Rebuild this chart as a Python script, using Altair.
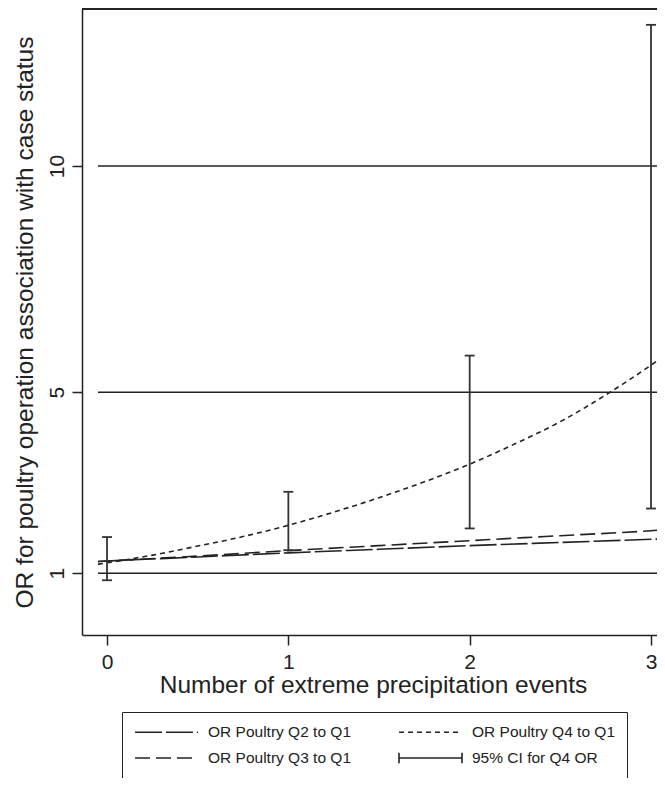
import altair as alt
import pandas as pd

# ---- data ----
x_q4 = [-0.05, 0, 0.25, 0.5, 0.75, 1, 1.25, 1.5, 1.75, 2, 2.25, 2.5, 2.75, 3, 3.07]
or_q4 = [1.20, 1.23, 1.40, 1.60, 1.81, 2.06, 2.35, 2.67, 3.02, 3.41, 3.86, 4.35, 4.94, 5.60, 5.80]
x_q23 = [-0.05, 0, 0.5, 1, 1.5, 2, 2.5, 3, 3.07]
or_q3 = [1.26, 1.27, 1.38, 1.50, 1.61, 1.72, 1.83, 1.94, 1.96]
or_q2 = [1.26, 1.27, 1.36, 1.45, 1.53, 1.61, 1.68, 1.75, 1.76]
ci_x = [0, 1, 2, 3]
ci_lo = [0.845, 1.51, 1.99, 2.43]
ci_hi = [1.80, 2.80, 5.81, 13.12]
# legend is filled column by column: Q2, Q3 | Q4, CI
series_names = ["OR Poultry Q2 to Q1", "OR Poultry Q3 to Q1",
                "OR Poultry Q4 to Q1", "95% CI for Q4 OR"]
grid_values = [1, 5, 10]
x_ticks = [0, 1, 2, 3]
y_ticks = [1, 5, 10]
x_domain = [-0.138, 3.033]
y_domain = [-0.365, 13.47]

lines_df = pd.concat([
    pd.DataFrame({"x": x_q23, "y": or_q2, "series": series_names[0]}),
    pd.DataFrame({"x": x_q23, "y": or_q3, "series": series_names[1]}),
    pd.DataFrame({"x": x_q4, "y": or_q4, "series": series_names[2]}),
], ignore_index=True)
ci_df = pd.DataFrame({"x": ci_x, "lo": ci_lo, "hi": ci_hi})
grid_df = pd.DataFrame({"y": grid_values})

FONT = "Liberation Sans"
INK = "#222222"
XTITLE = "Number of extreme precipitation events"
YTITLE = "OR for poultry operation association with case status"

xs = alt.Scale(domain=x_domain, nice=False, zero=False)
ys = alt.Scale(domain=y_domain, nice=False, zero=False)

x_axis = alt.Axis(values=x_ticks, format="d", grid=False,
                  domainColor=INK, domainWidth=1.5, tickColor=INK, tickWidth=1.5,
                  tickSize=10, labelFont=FONT, labelFontSize=21, labelColor=INK,
                  labelPadding=23, labelBaseline="alphabetic", labelFlush=False,
                  labelOverlap=False, titleFont=FONT, titleFontSize=24.5,
                  titleFontWeight="normal", titleColor=INK,
                  titleBaseline="alphabetic", titleY=57, titleX=291)
y_axis = alt.Axis(values=y_ticks, format="d", grid=False,
                  domainColor=INK, domainWidth=1.5, tickColor=INK, tickWidth=1.5,
                  tickSize=10, labelFont=FONT, labelFontSize=21, labelColor=INK,
                  labelAngle=270, labelAlign="center", labelBaseline="alphabetic",
                  labelPadding=9, labelFlush=False, labelOverlap=False,
                  titleFont=FONT, titleFontSize=24.5, titleFontWeight="normal",
                  titleColor=INK, titleAngle=270, titleAlign="center",
                  titleBaseline="alphabetic", titleX=-50, titleY=313)


def X(field):
    return alt.X(field, type="quantitative", scale=xs, axis=x_axis, title=XTITLE)


def Y(field):
    return alt.Y(field, type="quantitative", scale=ys, axis=y_axis, title=YTITLE)


ci_path = "M-1,-0.17V0.17M-1,0H1M1,-0.17V0.17"
legend = alt.Legend(
    title=None, orient="none", legendX=40, legendY=703, columns=2,
    columnPadding=47, rowPadding=9, clipHeight=16, symbolSize=3969,
    symbolStrokeWidth=1.6, symbolStrokeColor=INK,
    symbolType={"expr": "datum.value == '95% CI for Q4 OR' ? '" + ci_path + "' : 'stroke'"},
    labelFont=FONT, labelFontSize=15.5, labelColor=INK, labelOffset=9,
    labelLimit=400, strokeColor=INK, fillColor="white", padding=12,
)

lines = alt.Chart(lines_df).mark_line(
    strokeWidth=1.6, color=INK, interpolate="monotone", clip=True
).encode(
    x=X("x"), y=Y("y"),
    strokeDash=alt.StrokeDash(
        "series:N",
        scale=alt.Scale(domain=series_names,
                        range=[[27, 4], [15, 6], [5, 4], [1, 0]]),
        legend=legend,
    ),
)

grid = alt.Chart(grid_df).mark_rule(color=INK, strokeWidth=1.5, clip=True).encode(
    y=Y("y"), x=alt.datum(min(x_q4)), x2=alt.datum(max(x_q4))
)

top = alt.Chart(grid_df).mark_rule(color=INK, strokeWidth=1.5).encode(
    y=alt.datum(y_domain[1]), x=alt.datum(x_domain[0]), x2=alt.datum(x_domain[1])
)

bars = alt.Chart(ci_df).mark_rule(color="#333333", strokeWidth=1.8).encode(
    x=X("x"), y=Y("lo"), y2="hi"
)
cap_lo = alt.Chart(ci_df).mark_rule(color="#333333", strokeWidth=1.8,
                                    xOffset=-5, x2Offset=5).encode(
    x=X("x"), x2="x", y=Y("lo")
)
cap_hi = alt.Chart(ci_df).mark_rule(color="#333333", strokeWidth=1.8,
                                    xOffset=-5, x2Offset=5).encode(
    x=X("x"), x2="x", y=Y("hi")
)

chart = alt.layer(grid, top, lines, bars, cap_lo, cap_hi).properties(
    width=575, height=626,
    autosize=alt.AutoSizeParams(type="none"),
    padding={"left": 74, "top": 1, "right": 0, "bottom": 143},
    background="white",
).configure_view(stroke=None)

chart.save("out.html", embed_options={"renderer": "svg", "actions": False})
